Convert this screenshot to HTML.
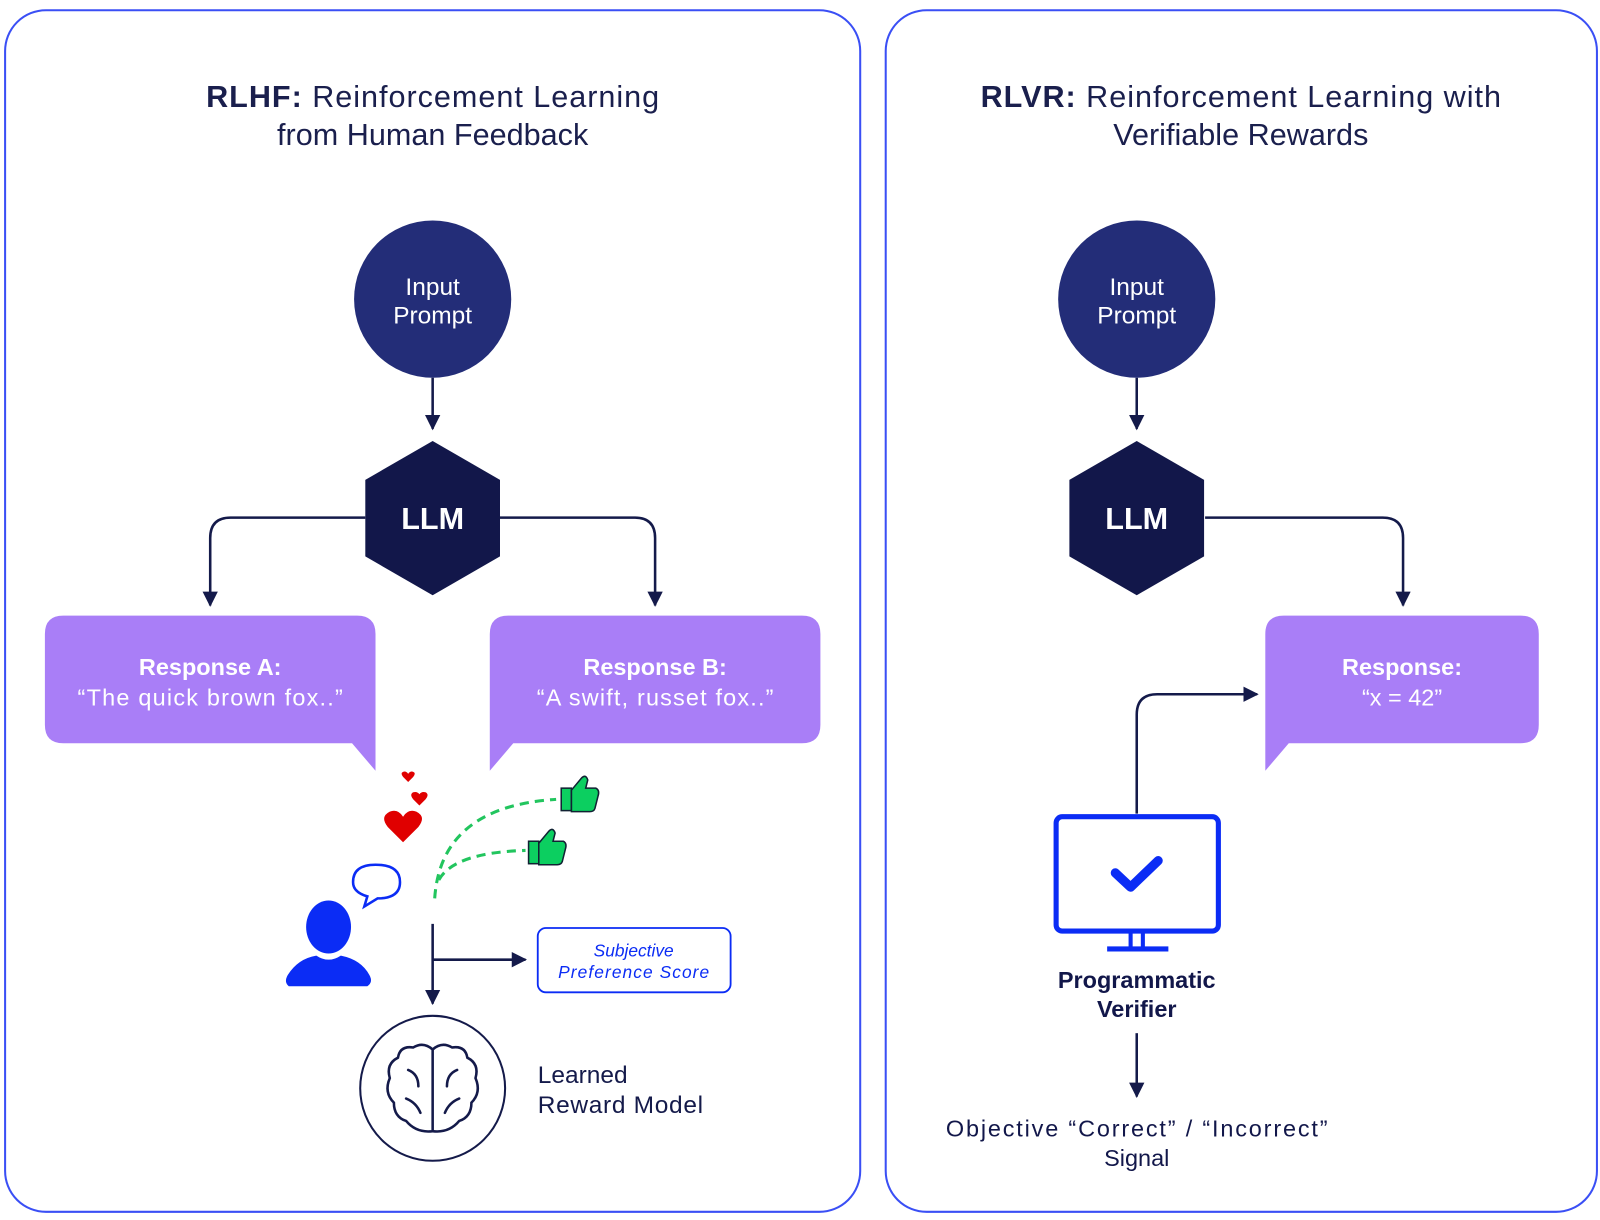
<!DOCTYPE html>
<html><head><meta charset="utf-8"><style>
html,body{margin:0;padding:0;background:#fff;width:1600px;height:1220px;overflow:hidden}
svg{display:block}
text{font-family:"Liberation Sans",sans-serif}
</style></head><body>
<svg width="1600" height="1220" viewBox="0 0 1568 1195" preserveAspectRatio="none" xmlns="http://www.w3.org/2000/svg">
<defs>
<marker id="ah" viewBox="0 0 10 10" refX="9" refY="5" markerWidth="6" markerHeight="6" orient="auto" markerUnits="strokeWidth"><path d="M0,0L10,5L0,10z" fill="#141a4a"/></marker>
</defs>
<rect x="5" y="10" width="838" height="1177" rx="40" fill="none" stroke="#3a4ff5" stroke-width="2"/>
<rect x="868" y="10" width="697" height="1177" rx="40" fill="none" stroke="#3a4ff5" stroke-width="2"/>

<g fill="#1a1f4d" font-size="30" text-anchor="middle">
<text x="424" y="105" textLength="444"><tspan font-weight="bold">RLHF:</tspan> Reinforcement Learning</text>
<text x="424" y="142">from Human Feedback</text>
<text x="1216" y="105" textLength="510"><tspan font-weight="bold">RLVR:</tspan> Reinforcement Learning with</text>
<text x="1216" y="142">Verifiable Rewards</text>
</g>

<circle cx="424" cy="293" r="77" fill="#232d78"/>
<text x="424" y="289" fill="#fff" font-size="24" text-anchor="middle">Input</text>
<text x="424" y="317" fill="#fff" font-size="24" text-anchor="middle">Prompt</text>
<g stroke="#141a4a" stroke-width="2.5" fill="none" marker-end="url(#ah)">
<path d="M424 370V420"/>
<path d="M358 507H226Q206 507 206 527V593"/>
<path d="M490 507H622Q642 507 642 527V593"/>
<path d="M424 905V983"/>
<path d="M424 940H515"/>
<path d="M1114 370V420"/>
<path d="M1181 507H1355Q1375 507 1375 527V593"/>
<path d="M1114 797V700Q1114 680 1134 680H1232"/>
<path d="M1114 1012V1074"/>
</g>
<polygon points="424,432 490,470 490,545 424,583 358,545 358,470" fill="#12174a"/>
<text x="424" y="518" fill="#fff" font-size="30" font-weight="bold" text-anchor="middle">LLM</text>

<path d="M62 603H350Q368 603 368 621V755L345 728H62Q44 728 44 710V621Q44 603 62 603Z" fill="#a97ef7"/>
<path d="M498 603H786Q804 603 804 621V710Q804 728 786 728H503L480 755V621Q480 603 498 603Z" fill="#a97ef7"/>
<g fill="#fff" font-size="23" text-anchor="middle">
<text x="206" y="661" font-weight="bold">Response A:</text>
<text x="206" y="691" textLength="260">“The quick brown fox..”</text>
<text x="642" y="661" font-weight="bold">Response B:</text>
<text x="642" y="691" textLength="232">“A swift, russet fox..”</text>
</g>

<g fill="#e00000">
<path d="M395 825L380 810Q372 800 382 795Q390 792 395 800Q400 792 408 795Q418 800 410 810Z"/>
<path d="M411 789L405 783Q401 778 405 776Q409 775 411 778Q413 775 417 776Q421 778 417 783Z"/>
<path d="M400 766L395 761Q392 757 395 756Q398 755 400 758Q402 755 405 756Q408 757 405 761Z"/>
</g>
<g stroke="#22c55e" stroke-width="3" fill="none" stroke-dasharray="9 6">
<path d="M426 880Q432 790 545 783"/>
<path d="M430 862Q445 835 515 833"/>
</g>
<g fill="#0ccf60" stroke="#123" stroke-width="1.5">
<rect x="550" y="772" width="10" height="22"/>
<path d="M560 774L570 762Q574 758 576 764L574 772H584Q588 774 586 780L583 792Q582 795 578 795H560Z"/>
<rect x="518" y="824" width="10" height="22"/>
<path d="M528 826L538 814Q542 810 544 816L542 824H552Q556 826 554 832L551 844Q550 847 546 847H528Z"/>
</g>
<ellipse cx="322" cy="908" rx="22" ry="26" fill="#0b2cf5"/>
<path d="M283 966Q278 962 282 955Q292 939 310 936Q322 944 334 936Q354 940 362 955Q366 962 360 966Z" fill="#0b2cf5"/>
<path d="M368 847Q392 847 392 864Q392 880 370 880L357 888L360 878Q346 874 346 864Q346 847 368 847Z" fill="none" stroke="#0b2cf5" stroke-width="2.5"/>

<rect x="527" y="909" width="189" height="63" rx="8" fill="none" stroke="#0b2cf5" stroke-width="1.8"/>
<g fill="#0b2cf5" font-size="17" font-style="italic" text-anchor="middle">
<text x="621" y="937">Subjective</text>
<text x="621" y="958" textLength="148">Preference Score</text>
</g>
<circle cx="424" cy="1066" r="71" fill="none" stroke="#141a4a" stroke-width="2"/>
<g fill="none" stroke="#141a4a" stroke-width="2.5" stroke-linecap="round">
<path d="M424 1028V1108M424 1028Q415 1020 405 1026Q392 1024 390 1036Q378 1042 382 1056Q376 1070 386 1080Q386 1094 398 1098Q408 1110 424 1108"/>
<path d="M424 1028Q433 1020 443 1026Q456 1024 458 1036Q470 1042 466 1056Q472 1070 462 1080Q462 1094 450 1098Q440 1110 424 1108"/>
<path d="M400 1048Q410 1052 410 1064M448 1048Q438 1052 438 1064M398 1076Q408 1080 412 1090M450 1076Q440 1080 436 1090"/>
</g>
<g fill="#141a4a" font-size="24">
<text x="527" y="1061">Learned</text>
<text x="527" y="1090" textLength="162">Reward Model</text>
</g>

<circle cx="1114" cy="293" r="77" fill="#232d78"/>
<text x="1114" y="289" fill="#fff" font-size="24" text-anchor="middle">Input</text>
<text x="1114" y="317" fill="#fff" font-size="24" text-anchor="middle">Prompt</text>
<polygon points="1114,432 1180,470 1180,545 1114,583 1048,545 1048,470" fill="#12174a"/>
<text x="1114" y="518" fill="#fff" font-size="30" font-weight="bold" text-anchor="middle">LLM</text>
<path d="M1258 603H1490Q1508 603 1508 621V710Q1508 728 1490 728H1263L1240 755V621Q1240 603 1258 603Z" fill="#a97ef7"/>
<text x="1374" y="661" fill="#fff" font-size="23" font-weight="bold" text-anchor="middle">Response:</text>
<text x="1374" y="691" fill="#fff" font-size="23" text-anchor="middle">“x = 42”</text>

<rect x="1035" y="800" width="159" height="112" rx="6" fill="none" stroke="#0b2cf5" stroke-width="5"/>
<path d="M1108 914V928M1120 914V928" stroke="#0b2cf5" stroke-width="4"/>
<rect x="1085" y="927" width="60" height="5" fill="#0b2cf5"/>
<path d="M1093 855L1108 869L1135 843" fill="none" stroke="#0b2cf5" stroke-width="9" stroke-linecap="round" stroke-linejoin="round"/>
<g fill="#12174a" font-size="23" font-weight="bold" text-anchor="middle">
<text x="1114" y="968">Programmatic</text>
<text x="1114" y="996">Verifier</text>
</g>
<g fill="#12174a" font-size="23" text-anchor="middle">
<text x="1114" y="1113" textLength="374">Objective “Correct” / “Incorrect”</text>
<text x="1114" y="1142">Signal</text>
</g>
</svg>
</body></html>
